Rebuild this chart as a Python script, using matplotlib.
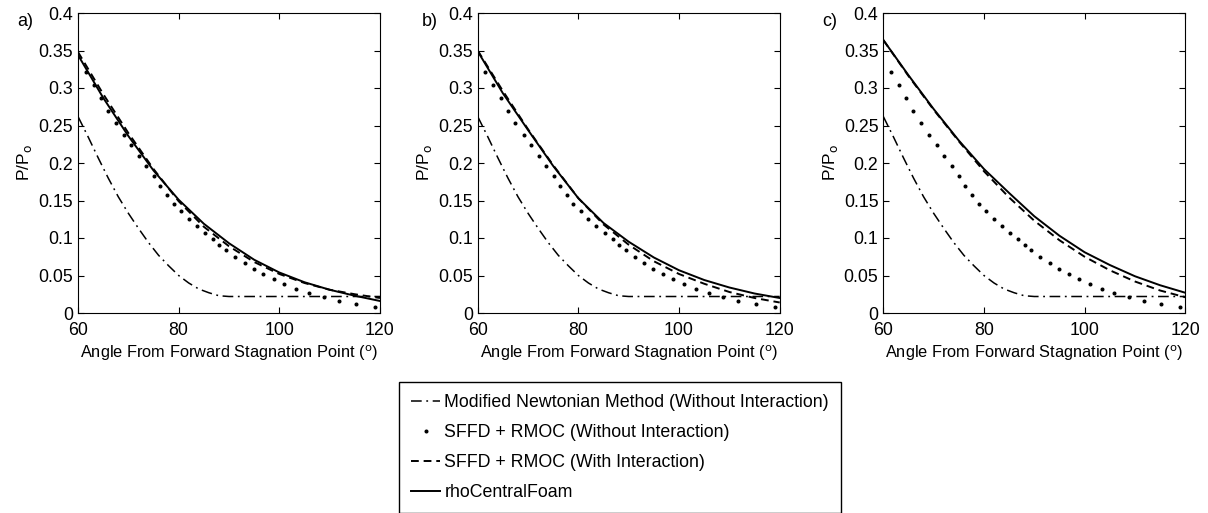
import matplotlib.pyplot as plt
import matplotlib.ticker as mticker

plt.rcParams['font.family'] = ['Liberation Sans', 'DejaVu Sans']
plt.rcParams['font.size'] = 12.8

# modified newtonian (same in every panel)
newt_x = [60, 62, 64, 66, 68, 70, 72, 74, 76, 78, 80, 82, 84, 86, 88, 90, 120]
newt_y = [0.262, 0.235, 0.207, 0.180, 0.155, 0.133, 0.113, 0.094, 0.077, 0.063,
          0.050, 0.040, 0.032, 0.027, 0.023, 0.022, 0.022]

# SFFD + RMOC without interaction (same in every panel)
free_x = [61.5, 63.1, 64.6, 66.0, 67.5, 69.1, 70.6, 72.1, 73.6, 75.1, 76.3, 77.7, 79.0,
          80.5, 82.0, 83.6, 85.2, 86.8, 88.1,
          89.4, 91.2, 93.1, 94.9, 96.8, 98.9, 101.0, 103.4, 105.9, 108.8, 111.8, 115.2, 119.0]
free_y = [0.322, 0.304, 0.287, 0.270, 0.254, 0.238, 0.224, 0.209, 0.196, 0.183, 0.169, 0.157, 0.146,
          0.136, 0.126, 0.116, 0.107, 0.099, 0.091,
          0.0836, 0.0743, 0.0663, 0.0587, 0.0516, 0.0453, 0.0387, 0.0325, 0.0267, 0.0209, 0.016, 0.0116, 0.0076]

ang = [60, 65, 70, 75, 80, 85, 90, 95, 100, 105, 110, 115, 120]

# SFFD + RMOC with interaction
inter = {
    "a": [0.348, 0.292, 0.240, 0.192, 0.149, 0.115, 0.089, 0.068, 0.052, 0.040, 0.031, 0.025, 0.020],
    "b": [0.350, 0.296, 0.245, 0.197, 0.153, 0.118, 0.091, 0.069, 0.052, 0.039, 0.028, 0.020, 0.014],
    "c": [0.364, 0.316, 0.271, 0.229, 0.189, 0.154, 0.123, 0.097, 0.075, 0.057, 0.042, 0.030, 0.021],
}
# rhoCentralFoam
foam = {
    "a": [0.344, 0.287, 0.236, 0.190, 0.151, 0.119, 0.093, 0.071, 0.054, 0.041, 0.031, 0.023, 0.016],
    "b": [0.349, 0.293, 0.244, 0.196, 0.153, 0.120, 0.095, 0.074, 0.057, 0.044, 0.034, 0.026, 0.020],
    "c": [0.364, 0.317, 0.272, 0.230, 0.192, 0.160, 0.129, 0.103, 0.081, 0.064, 0.049, 0.037, 0.027],
}

fig = plt.figure(figsize=(12.08, 5.13), dpi=100)
lefts = [78 / 1208, 477.7 / 1208, 883.3 / 1208]
tags = ["a", "b", "c"]
tag_x = [17, 422, 822]

for i, k in enumerate(tags):
    ax = fig.add_axes([lefts[i], 1 - 313 / 513, 302 / 1208, 300 / 513])
    l1, = ax.plot(newt_x, newt_y, color='k', lw=1.1, dashes=(7, 3, 1.2, 3))
    l2, = ax.plot(free_x, free_y, 'k.', ms=3.8, ls='none')
    l3, = ax.plot(ang, inter[k], color='k', lw=1.4, dashes=(4, 2.5))
    l4, = ax.plot(ang, foam[k], color='k', lw=1.4)
    ax.set_xlim(60, 120)
    ax.set_ylim(0, 0.4)
    ax.set_xticks([60, 80, 100, 120])
    ax.set_yticks([0, 0.05, 0.1, 0.15, 0.2, 0.25, 0.3, 0.35, 0.4])
    ax.yaxis.set_major_formatter(mticker.FormatStrFormatter('%g'))
    ax.tick_params(direction='in', top=True, right=True, length=4, labelsize=12.8)
    ax.tick_params(axis='x', pad=6.5)
    ax.set_xlabel('Angle From Forward Stagnation Point ($^\\mathrm{o}$)', fontsize=11.8, labelpad=3)
    ax.set_ylabel('P/P$_\\mathrm{o}$', fontsize=12.5, labelpad=3)
    fig.text(tag_x[i] / 1208, 1 - 22 / 513, k + ")", fontsize=13, va='center')

fig.legend([l1, l2, l3, l4],
           ['Modified Newtonian Method (Without Interaction)',
            'SFFD + RMOC (Without Interaction)',
            'SFFD + RMOC (With Interaction)',
            'rhoCentralFoam'],
           loc='upper left', bbox_to_anchor=(399 / 1208, 1 - 382 / 513),
           frameon=True, fancybox=False, edgecolor='k', framealpha=1,
           handlelength=1.6, handletextpad=0.25, labelspacing=0.72,
           borderpad=0.7, borderaxespad=0, fontsize=12.8)

fig.savefig('out.png', dpi=100)
